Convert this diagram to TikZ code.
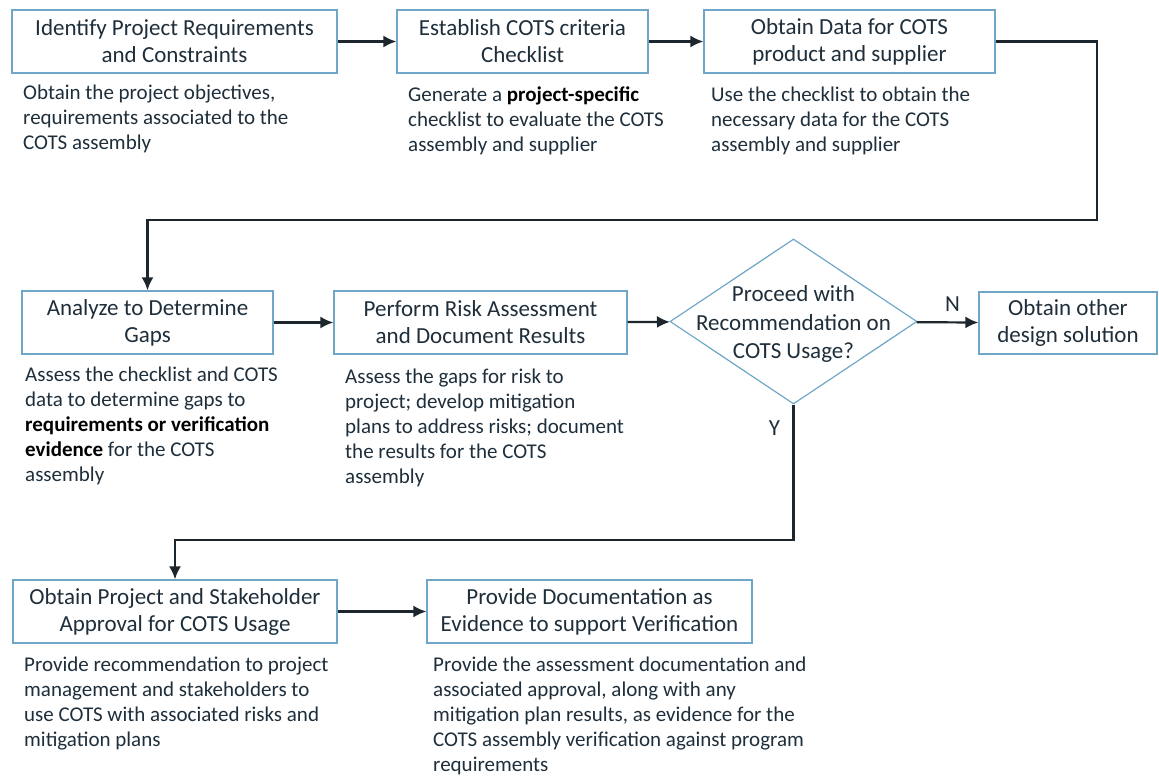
\documentclass[tikz,border=0pt]{standalone}
\usepackage{fontspec}
\setmainfont{Carlito}
\usepackage{xcolor}
\definecolor{boxColor}{RGB}{112,166,200}
\definecolor{txtColor}{RGB}{30,46,58}
\definecolor{lineColor}{RGB}{28,38,44}
\usetikzlibrary{shapes.geometric,arrows.meta}

\begin{document}
\begin{tikzpicture}[x=1pt,y=-1pt,
  stepbox/.style={draw=boxColor,line width=1.2pt,text=txtColor,align=center,
    inner sep=0pt,minimum height=63pt,font=\fontsize{23}{27}\selectfont},
  note/.style={anchor=north west,inner sep=0pt,align=left,text=txtColor,
    font=\fontsize{21}{25}\selectfont},
  arr/.style={draw=lineColor,line width=2.2pt,-{Latex[length=13pt,width=12pt]}}]
\useasboundingbox (0,0) rectangle (1159,777);
%
\node[stepbox,minimum width=325pt] (ident) at (174.5,41.5) {Identify Project Requirements\\and Constraints};
\node[stepbox,minimum width=251pt] (crit) at (522.5,41.5) {Establish COTS criteria\\Checklist};
\node[stepbox,minimum width=291pt] (data) at (849.5,41.5) {Obtain Data for COTS\\product and supplier};
\node[note] (identN) at (23,85) {Obtain the project objectives,\\requirements associated to the\\COTS assembly};
\node[note] (critN) at (408,87) {Generate a \textbf{\color{black}project-specific}\\checklist to evaluate the COTS\\assembly and supplier};
\node[note] (dataN) at (711,87) {Use the checklist to obtain the\\necessary data for the COTS\\assembly and supplier};
%
\node[stepbox,minimum width=251pt] (gaps) at (147.5,322.5) {Analyze to Determine\\Gaps};
\node[stepbox,minimum width=293pt] (risk) at (480.5,322.5) {Perform Risk Assessment\\and Document Results};
\node[draw=boxColor,line width=1.2pt,shape=diamond,aspect=1.5,inner sep=0pt,
  minimum width=247pt,minimum height=165pt] (dec) at (793.5,321.5) {};
\node[text=txtColor,align=center,inner sep=0pt,font=\fontsize{23}{28.5}\selectfont]
  (decT) at (793.5,324) {Proceed with\\Recommendation on\\COTS Usage?};
\node[stepbox,minimum width=178pt,minimum height=62pt] (other) at (1068,323) {Obtain other\\design solution};
\node[note] (gapsN) at (25,367) {Assess the checklist and COTS\\data to determine gaps to\\\textbf{\color{black}requirements or verification}\\\textbf{\color{black}evidence} for the COTS\\assembly};
\node[note] (riskN) at (345,369) {Assess the gaps for risk to\\project; develop mitigation\\plans to address risks; document\\the results for the COTS\\assembly};
%
\node[stepbox,minimum width=324pt] (appr) at (175,611.5) {Obtain Project and Stakeholder\\Approval for COTS Usage};
\node[stepbox,minimum width=325pt] (doc) at (589.5,611.5) {Provide Documentation as\\Evidence to support Verification};
\node[note] (apprN) at (24,657) {Provide recommendation to project\\management and stakeholders to\\use COTS with associated risks and\\mitigation plans};
\node[note] (docN) at (433,657) {Provide the assessment documentation and\\associated approval, along with any\\mitigation plan results, as evidence for the\\COTS assembly verification against program\\requirements};
%
\coordinate (turnA) at (1097,220);
\coordinate (turnB) at (793.5,540);
\draw[arr] (ident) -- (crit);
\draw[arr] (crit) -- (data);
\draw[arr] (data.east) -| (turnA) -| (gaps.north);
\draw[arr] (gaps) -- (risk);
\draw[arr] (risk) -- (dec);
\draw[arr] (dec) -- node[above,text=txtColor,font=\fontsize{23}{27}\selectfont,xshift=5pt,yshift=6pt] (labN) {N} (other);
\draw[arr] (dec.south) -- node[left,text=txtColor,font=\fontsize{23}{27}\selectfont,pos=0.17,xshift=-9pt] (labY) {Y} (turnB) -| (appr.north);
\draw[arr] (appr) -- (doc);
\end{tikzpicture}
\end{document}
